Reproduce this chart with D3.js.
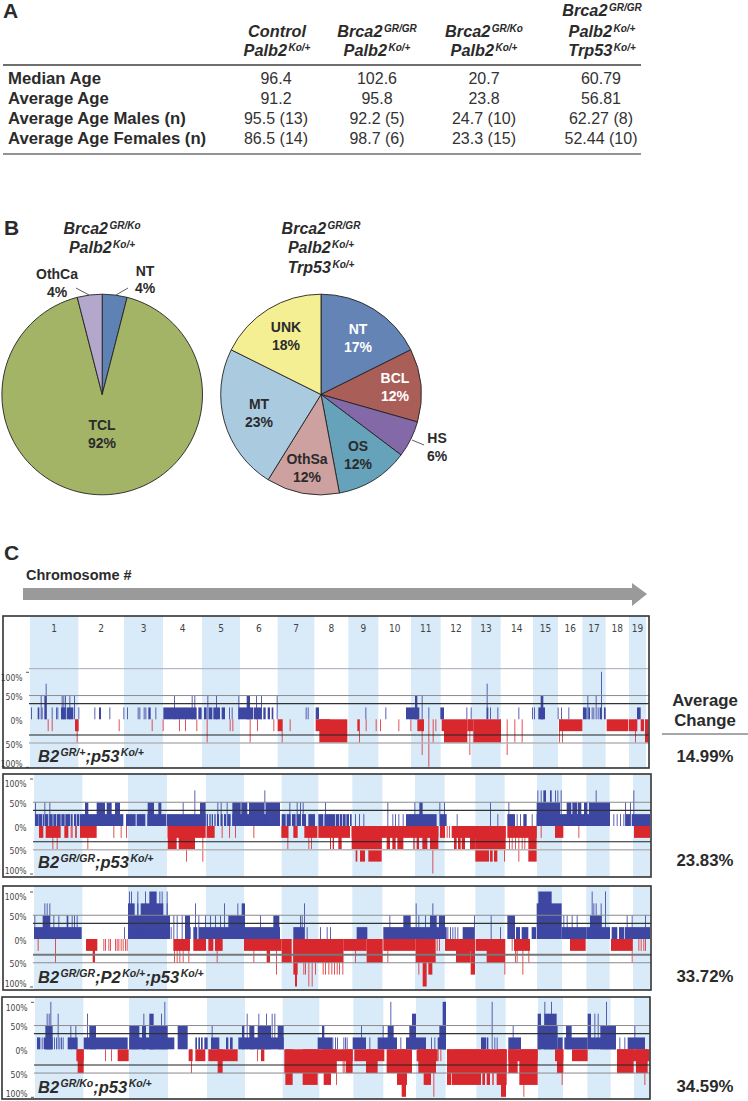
<!DOCTYPE html>
<html><head><meta charset="utf-8">
<script src="https://cdn.jsdelivr.net/npm/d3@7/dist/d3.min.js"></script>
<style>html,body{margin:0;padding:0;background:#fff}svg{display:block}text{font-family:"Liberation Sans",Arial,sans-serif}</style>
</head><body><svg id="c" width="748" height="1101"></svg>
<script>
// ---- Table A
const tableCols=[[["Control",""],["Palb2","Ko/+"]],[["Brca2","GR/GR"],["Palb2","Ko/+"]],[["Brca2","GR/Ko"],["Palb2","Ko/+"]],[["Brca2","GR/GR"],["Palb2","Ko/+"],["Trp53","Ko/+"]]];
const tableRows=["Median Age","Average Age","Average Age Males (n)","Average Age Females (n)"];
const tableVals=[["96.4","102.6","20.7","60.79"],["91.2","95.8","23.8","56.81"],["95.5 (13)","92.2 (5)","24.7 (10)","62.27 (8)"],["86.5 (14)","98.7 (6)","23.3 (15)","52.44 (10)"]];
// ---- Pies B (mouse counts, printed percentages)
const pie1Names=["NT","TCL","OthCa"], pie1Counts=[1,23,1], pie1Pct=["4%","92%","4%"];
const pie1Colors=["#5f82b5","#a4b466","#b3a8cc"];
const pie2Names=["NT","BCL","HS","OS","OthSa","MT","UNK"], pie2Counts=[3,2,1,2,2,4,3], pie2Pct=["17%","12%","6%","12%","12%","23%","18%"];
const pie2Colors=["#6484b6","#a95f58","#8369a8","#66a2ba","#cda19f","#a9cadf","#f5ef94"];
// ---- Panel C: chromosome ends on a probe-index axis
const chrEnds=[145,282,399,516,630,743,853,955,1045,1143,1232,1324,1412,1509,1584,1657,1727,1797,1848];
const chrNames=d3.range(1,20).map(String);
const axisTicks=[100,50,0,-50,-100];
const avgChange=["14.99%","23.83%","33.72%","34.59%"];
const panelNames=[[["B2","GR/+"],[";p53","Ko/+"]],[["B2","GR/GR"],[";p53","Ko/+"]],[["B2","GR/GR"],[";P2","Ko/+"],[";p53","Ko/+"]],[["B2","GR/Ko"],[";p53","Ko/+"]]];
// [start,end,pct] = block; [pos,pct] = single probe
const p1Gain=[[3,25],[23,28,25],[32,50],[35,25],[43,50,50],[47,75],[65,25],[78,25],[82,25],[93,107,25],[95,50],[100,50],[105,50],[110,130,25],[118,50],[132,50],[145,25],[193,25],[207,213,25],[238,25],[280,25],[291,25],[323,25],[328,25],[341,25],[346,25],[355,362,25],[376,25],[400,500,25],[432,50],[485,50],[493,50],[505,515,25],[522,530,25],[532,50],[536,547,25],[550,570,25],[558,50],[575,585,25],[597,25],[605,25],[625,645,25],[625,50],[650,660,50],[645,670,25],[678,50],[693,50],[672,695,25],[700,707,25],[713,720,25],[725,730,25],[740,50],[827,25],[833,25],[857,867,25],[1006,25],[1066,25],[1128,1168,25],[1155,1162,50],[1175,50],[1195,25],[1231,1242,25],[1309,25],[1322,25],[1370,75],[1370,1375,25],[1380,25],[1402,25],[1465,25],[1506,25],[1512,25],[1525,1545,25],[1532,1540,50],[1583,25],[1593,25],[1615,25],[1659,1670,25],[1672,50],[1675,1680,25],[1685,25],[1690,25],[1697,50],[1703,25],[1713,100],[1709,1715,25],[1722,1727,25],[1821,1832,25]];
const p1Loss=[[53,25],[65,25],[135,146,25],[140,50],[266,25],[365,25],[398,25],[447,25],[465,25],[499,25],[530,50],[599,25],[607,25],[659,50],[681,25],[730,25],[743,757,25],[755,50],[779,25],[857,900,25],[868,900,50],[900,952,50],[982,987,25],[987,50],[1007,25],[1037,25],[1050,25],[1105,25],[1141,25],[1162,1182,25],[1175,75],[1195,100],[1208,50],[1216,25],[1235,1242,25],[1242,1312,50],[1318,75],[1312,1330,25],[1330,1413,50],[1430,75],[1453,50],[1475,50],[1587,1657,25],[1587,50],[1596,50],[1730,1795,25],[1797,1822,25],[1815,50],[1832,1842,25],[1845,1855,50]];
const p2Gain=[[3,14,25],[15,24,25],[26,30,25],[33,43,25],[46,56,25],[58,66,25],[68,80,25],[82,92,25],[94,108,25],[110,116,25],[120,126,25],[128,136,25],[138,268,25],[276,305,25],[308,334,25],[340,396,25],[398,515,25],[518,522,25],[526,530,25],[533,537,25],[541,545,25],[549,555,25],[560,566,25],[570,576,25],[580,590,25],[595,738,25],[743,755,25],[758,770,25],[774,785,25],[788,800,25],[804,816,25],[823,843,25],[853,868,25],[871,888,25],[888,903,25],[905,915,25],[917,925,25],[927,935,25],[937,945,25],[948,953,25],[963,25],[975,25],[988,25],[1075,25],[1083,25],[1093,25],[1106,25],[1116,1208,25],[1218,1238,25],[1268,25],[1390,25],[1420,1443,25],[1448,25],[1458,25],[1468,1478,25],[1493,25],[1508,1728,25],[1738,25],[1748,25],[1758,25],[1768,25],[1775,1788,25],[1793,1848,25],
[3,50],[31,50],[46,50],[153,163,50],[188,213,50],[218,233,50],[243,258,50],[341,360,50],[373,382,50],[446,50],[498,515,50],[550,50],[560,50],[578,50],[595,620,50],[622,640,50],[645,690,50],[695,738,50],[766,50],[788,50],[798,50],[806,50],[873,50],[481,75],[691,75],[1141,50],[1156,1166,50],[1060,50],[1216,50],[1230,50],[1368,50],[1423,50],[1508,1578,50],[1598,1612,50],[1615,1630,50],[1632,1642,50],[1650,1660,50],[1665,1728,50],[1773,50],[1788,50],[1510,75],[1520,75],[1528,1536,75],[1548,1553,75],[1563,75],[1570,75],[1580,75],[1685,75],[1798,75]];
const p2Loss=[[15,28,25],[35,80,25],[91,103,25],[110,25],[113,25],[123,25],[126,25],[138,188,25],[238,25],[260,25],[276,25],[401,515,25],[401,428,50],[434,483,50],[456,75],[505,75],[518,542,25],[563,25],[585,25],[603,25],[658,25],[742,763,25],[760,50],[778,791,25],[811,850,25],[823,50],[831,50],[853,888,25],[55,50],[68,50],[160,50],[888,948,25],[888,891,50],[896,900,50],[913,923,50],[953,1213,25],[953,1043,50],[965,970,75],[978,993,75],[1003,1043,75],[1058,1068,50],[1075,1085,50],[1090,1108,50],[1138,1142,50],[1148,1155,50],[1165,1180,50],[1188,1213,50],[1195,100],[1218,1233,25],[1238,25],[1245,25],[1253,1415,25],[1260,1268,50],[1272,1280,50],[1283,1293,50],[1308,1323,50],[1324,1415,50],[1324,1365,75],[1368,1376,75],[1380,1390,75],[1410,75],[1420,1508,25],[1425,50],[1433,50],[1443,50],[1453,75],[1463,50],[1471,50],[1483,1508,75],[1520,25],[1563,1588,25],[1633,25],[1800,1848,25]];
const p3Gain=[[0,143,25],[1,50],[26,48,50],[73,50],[58,50],[98,103,50],[113,50],[120,50],[128,50],[31,75],[38,75],[46,75],[270,25],[282,408,50],[282,302,75],[310,313,75],[320,388,75],[398,75],[285,100],[291,100],[310,100],[333,100],[346,368,100],[376,100],[383,100],[398,100],[410,25],[418,50],[428,50],[443,50],[453,470,25],[478,490,25],[495,628,25],[453,468,50],[483,75],[493,50],[513,50],[528,50],[543,50],[558,50],[570,75],[583,628,50],[610,75],[623,633,75],[633,738,25],[678,50],[718,736,50],[778,810,25],[798,50],[803,50],[810,75],[818,25],[858,25],[878,25],[888,25],[968,1000,25],[1048,1238,25],[1066,50],[1108,1130,50],[1145,75],[1153,50],[1173,50],[1188,1208,50],[1195,75],[1215,1233,50],[1240,25],[1248,25],[1255,25],[1262,25],[1270,25],[1286,1308,25],[1308,1320,25],[1320,50],[1370,50],[1398,25],[1420,1443,50],[1446,1458,25],[1463,1483,25],[1493,1506,25],[1508,1583,75],[1513,1553,100],[1583,1658,25],[1588,50],[1598,50],[1613,50],[1628,50],[1658,1728,25],[1673,100],[1678,75],[1685,75],[1668,1703,50],[1713,100],[1700,75],[1733,1750,25],[1755,1770,25],[1772,1848,25],[1778,50],[1793,50],[1833,50]];
const p3Loss=[[11,25],[63,50],[156,190,25],[176,183,50],[208,25],[213,25],[223,25],[228,25],[243,25],[248,25],[253,25],[260,25],[266,25],[273,25],[278,25],[418,468,25],[420,50],[428,50],[436,50],[446,50],[463,50],[478,516,25],[523,538,25],[543,566,25],[548,50],[630,743,25],[658,50],[698,708,50],[726,75],[743,773,50],[778,888,50],[778,791,75],[783,789,100],[808,75],[813,75],[823,100],[833,100],[843,75],[866,75],[873,75],[883,75],[888,928,50],[892,75],[900,75],[908,75],[915,75],[925,75],[928,998,25],[963,50],[998,1046,50],[1048,1145,25],[1060,50],[1145,1205,50],[1153,75],[1166,1178,100],[1183,1195,75],[1208,25],[1215,25],[1233,1323,25],[1266,1310,50],[1310,1323,75],[1325,1413,25],[1358,1413,50],[1411,75],[1433,25],[1443,50],[1448,50],[1440,1488,25],[1465,75],[1483,50],[1608,1655,25],[1731,1796,25],[1793,50],[1813,25],[1820,25],[1828,25],[1833,25]];
const p4Gain=[[6,16,25],[20,25],[26,53,25],[31,53,50],[46,100],[35,75],[41,75],[57,25],[63,25],[68,75],[73,25],[78,25],[83,25],[98,128,25],[106,50],[121,50],[146,278,25],[156,75],[163,183,50],[283,418,25],[283,313,50],[325,75],[321,333,50],[343,356,75],[343,398,50],[388,100],[378,75],[428,458,50],[481,486,25],[490,495,25],[498,503,25],[508,518,25],[528,553,25],[573,580,25],[585,593,25],[530,50],[610,746,25],[621,628,50],[635,75],[643,658,50],[670,75],[668,708,50],[693,75],[710,75],[718,75],[728,746,50],[848,888,25],[861,868,50],[892,25],[900,25],[906,25],[925,25],[930,25],[935,25],[888,892,25],[953,993,25],[978,50],[1003,25],[1028,1086,25],[1043,50],[1066,100],[1058,1076,50],[1096,25],[1113,1173,25],[1123,1143,50],[1131,1143,75],[1188,25],[1198,25],[1208,1233,25],[1213,1233,50],[1223,1233,100],[1338,1353,25],[1355,1360,25],[1370,100],[1378,25],[1385,25],[1420,1458,25],[1433,50],[1508,1568,50],[1508,1518,75],[1528,1565,75],[1528,100],[1548,100],[1568,1583,25],[1588,1658,25],[1593,1610,50],[1658,1668,75],[1668,1743,25],[1678,75],[1688,75],[1713,100],[1696,1743,50],[1753,25],[1768,25],[1778,1830,25],[1798,50]];
const p4Loss=[[124,146,25],[128,146,50],[210,25],[228,25],[248,281,25],[461,473,25],[468,50],[481,511,25],[520,608,25],[548,563,50],[666,25],[678,688,25],[748,888,50],[751,773,75],[803,848,75],[866,888,75],[888,953,25],[888,903,50],[903,75],[923,50],[928,50],[933,953,50],[958,1048,25],[993,1028,50],[1055,1131,50],[1086,1116,75],[1100,1113,100],[1145,1208,25],[1150,1203,50],[1166,1188,75],[1195,100],[1208,25],[1216,25],[1236,1415,50],[1236,1248,75],[1250,1338,75],[1342,1350,75],[1355,1365,75],[1372,1376,75],[1385,1415,75],[1398,1413,100],[1420,1508,25],[1420,1448,50],[1453,1508,75],[1465,100],[1560,1585,25],[1566,1585,50],[1580,75],[1611,1658,25],[1746,1843,25],[1746,1796,50],[1803,1838,50],[1828,75]];
const gains=[p1Gain,p2Gain,p3Gain,p4Gain], losses=[p1Loss,p2Loss,p3Loss,p4Loss];

const svg=d3.select("#c");
const ink="#2b2b2b";
function rich(g,parts,x,y,size,anchor,supSize,rise){
  const t=g.append("text").attr("x",x).attr("y",y).attr("text-anchor",anchor).attr("font-size",size)
    .attr("font-weight","bold").attr("font-style","italic").attr("fill",ink);
  parts.forEach(([b,s])=>{
    t.append("tspan").attr("font-size",size).attr("dy",t.selectAll("tspan").size()&&t.property("_up")?rise:0).text(b);
    t.property("_up",false);
    if(s){t.append("tspan").attr("font-size",supSize).attr("dy",-rise).attr("dx",1.5).text(s);t.property("_up",true);}
  });
}
function label(g,str,x,y,size,anchor,fill,weight){
  g.append("text").attr("x",x).attr("y",y).attr("text-anchor",anchor||"middle").attr("font-size",size)
   .attr("font-weight",weight||"bold").attr("fill",fill||ink).text(str);
}
// ---- A
label(svg,"A",3,17.5,21,"start");
const colX=[277,377,484,602], valX=[276,377,484,601], rowY=[84,104,124,144], headY3=[16,37,56], headY2=[37,56];
tableCols.forEach((lines,i)=>{const ys=lines.length===3?headY3:headY2;
  lines.forEach((p,j)=>rich(svg,[p],colX[i],ys[j],16.3,"middle",10,5));});
[65,154].forEach(y=>svg.append("line").attr("x1",3).attr("x2",641).attr("y1",y).attr("y2",y).attr("stroke","#6f6f6f").attr("stroke-width",y===65?2:1.6));
tableRows.forEach((r,i)=>{label(svg,r,8,rowY[i],16.7,"start");
  tableVals[i].forEach((v,j)=>label(svg,v,valX[j],rowY[i],16,"middle","#333","normal"));});
// ---- B
label(svg,"B",4,235,21,"start");
const pieGen=d3.pie().sort(null).value(d=>d);
function drawPie(cx,cy,r,counts,colors){
  const g=svg.append("g").attr("transform",`translate(${cx},${cy})`);
  const arc=d3.arc().innerRadius(0).outerRadius(r);
  g.selectAll("path").data(pieGen(counts)).join("path").attr("d",arc)
   .attr("fill",(d,i)=>colors[i]).attr("stroke","#222").attr("stroke-width",.9);
}
drawPie(102.2,394.5,100.3,pie1Counts,pie1Colors);
drawPie(321,394.5,100.3,pie2Counts,pie2Colors);
[[["Brca2","GR/Ko"]],[["Palb2","Ko/+"]]].forEach((p,i)=>rich(svg,p,102,[234,253][i],16,"middle",10,5));
[[["Brca2","GR/GR"]],[["Palb2","Ko/+"]],[["Trp53","Ko/+"]]].forEach((p,i)=>rich(svg,p,321,[234,253,273][i],16,"middle",10,5));
const pie1Pos=[[145,276,293],[102,430,448],[57,279,297]];
pie1Names.forEach((n,i)=>{label(svg,n,pie1Pos[i][0],pie1Pos[i][1],14);label(svg,pie1Pct[i],pie1Pos[i][0],pie1Pos[i][2],14);});
const pie2Pos=[[358,334,352],[395,383,401],[437,443,461],[358,451,469],[307,464,482],[259,409,427],[286,332,350]];
const pie2Fill=["#fff","#fff",ink,ink,ink,ink,ink];
pie2Names.forEach((n,i)=>{label(svg,n,pie2Pos[i][0],pie2Pos[i][1],14,"middle",pie2Fill[i]);label(svg,pie2Pct[i],pie2Pos[i][0],pie2Pos[i][2],14,"middle",pie2Fill[i]);});
const leaders=[[76,288,89,295],[128,288,116,295],[412,440,424,445]];
leaders.forEach(l=>svg.append("line").attr("x1",l[0]).attr("y1",l[1]).attr("x2",l[2]).attr("y2",l[3]).attr("stroke","#333").attr("stroke-width",.8));
// ---- C
label(svg,"C",4,560,21,"start");
label(svg,"Chromosome #",26,580,14.5,"start");
svg.append("path").attr("d","M23,588H632V583L647,594L632,606V600H23Z").attr("fill","#9a9a9a");
const frames=[[3,616,649,768],[3,774,651,877],[3,886,651,990],[2,997,650,1099]];
const zeroY=[719.3,826,939,1049.3], plotX0=[30,34,34,35];
const thickY=[33,33,33,33];
const avgY=[761.5,866,982,1092];
const defs=svg.append("defs");
frames.forEach((f,p)=>{
  const g=svg.append("g");
  defs.append("clipPath").attr("id","cp"+p).append("rect").attr("x",f[0]).attr("y",f[1]).attr("width",f[2]-f[0]).attr("height",f[3]-f[1]);
  const inner=g.append("g").attr("clip-path",`url(#cp${p})`);
  const x=d3.scaleLinear().domain([0,1848]).range([plotX0[p],plotX0[p]+616]);
  const y=d3.scaleLinear().domain([-100,100]).range([zeroY[p]+47.5,zeroY[p]-47.5]);
  const bounds=chrEnds.map((e,i)=>[i?chrEnds[i-1]:0,e,chrNames[i]]);
  inner.selectAll("rect.band").data(bounds.filter((d,i)=>i%2===0)).join("rect").attr("class","band")
    .attr("x",d=>x(d[0])).attr("width",d=>x(d[1])-x(d[0])).attr("y",f[1]).attr("height",f[3]-f[1]).attr("fill","#d9ebf9");
  const norm=d=>d.length===3?{a:d[0],b:d[1],v:d[2],thin:false}:{a:d[0],b:d[0]+3,v:d[1],thin:true};
  inner.selectAll("rect.gain").data(gains[p].map(norm)).join("rect").attr("class","gain")
    .attr("x",d=>x(d.a)).attr("width",d=>x(d.b)-x(d.a)).attr("y",d=>y(d.v)).attr("height",d=>y(0)-y(d.v))
    .attr("fill","#3d47a2").attr("opacity",d=>d.thin?.85:1);
  inner.selectAll("rect.loss").data(losses[p].map(norm)).join("rect").attr("class","loss")
    .attr("x",d=>x(d.a)).attr("width",d=>x(d.b)-x(d.a)).attr("y",y(0)).attr("height",d=>y(-d.v)-y(0))
    .attr("fill","#d8282e").attr("opacity",d=>d.thin?.8:1);
  const lx0=x(0)-1, lx1=f[2];
  const hl=(v,c,w)=>inner.append("line").attr("x1",lx0).attr("x2",lx1).attr("y1",y(v)).attr("y2",y(v)).attr("stroke",c).attr("stroke-width",w);
  hl(50,"#8a8a8f",1); hl(-50,p<2?"#b5b5b8":"#8a8a8f",p<2?1.4:1);
  hl(thickY[p],"#333",1.1); hl(-thickY[p],p===2?"#77777a":"#222",p===2?2:1.1);
  if(p===0) inner.append("line").attr("x1",lx0).attr("x2",lx1).attr("y1",668.7).attr("y2",668.7).attr("stroke","#a6a8b8").attr("stroke-width",1);
  const ax=d3.axisLeft(y).tickValues(axisTicks).tickSize(3).tickFormat(v=>Math.abs(v)+"%");
  const ag=g.append("g").attr("transform",`translate(${x(0)-1},0)`).call(ax);
  ag.select(".domain").remove();
  ag.selectAll(".tick line").attr("stroke",d=>Math.abs(d)===100?"#555":"none");
  ag.selectAll(".tick text").attr("font-size",9.5).attr("fill","#444")
    .style("font-family",'"Liberation Sans Narrow","DejaVu Sans Condensed","Liberation Sans"')
    .attr("transform","translate(-1,0) scale(.9,1)")
    .attr("dy",d=>(d===100?5.5:d===-100?-3.5:1)+3);
  if(p===0){
    g.selectAll("text.chr").data(bounds).join("text").attr("class","chr")
     .attr("x",d=>x((d[0]+d[1])/2)).attr("y",632).attr("text-anchor","middle")
     .attr("font-size",10).attr("fill","#444")
     .style("font-family",'"Liberation Sans Narrow","DejaVu Sans Condensed","Liberation Sans"').text(d=>d[2]);
  }
  g.append("rect").attr("x",f[0]).attr("y",f[1]).attr("width",f[2]-f[0]).attr("height",f[3]-f[1])
   .attr("fill","none").attr("stroke","#333").attr("stroke-width",1.6);
  rich(g,panelNames[p],38,[762,868,983,1093][p],16.5,"start",10.5,6);
  label(svg,avgChange[p],705,avgY[p],16.8,"middle");
});
label(svg,"Average",705,705.5,16.8);
label(svg,"Change",705,725.5,16.8);
svg.append("line").attr("x1",662).attr("x2",748).attr("y1",734).attr("y2",734).attr("stroke","#8a8a8a").attr("stroke-width",1.6);
</script></body></html>
